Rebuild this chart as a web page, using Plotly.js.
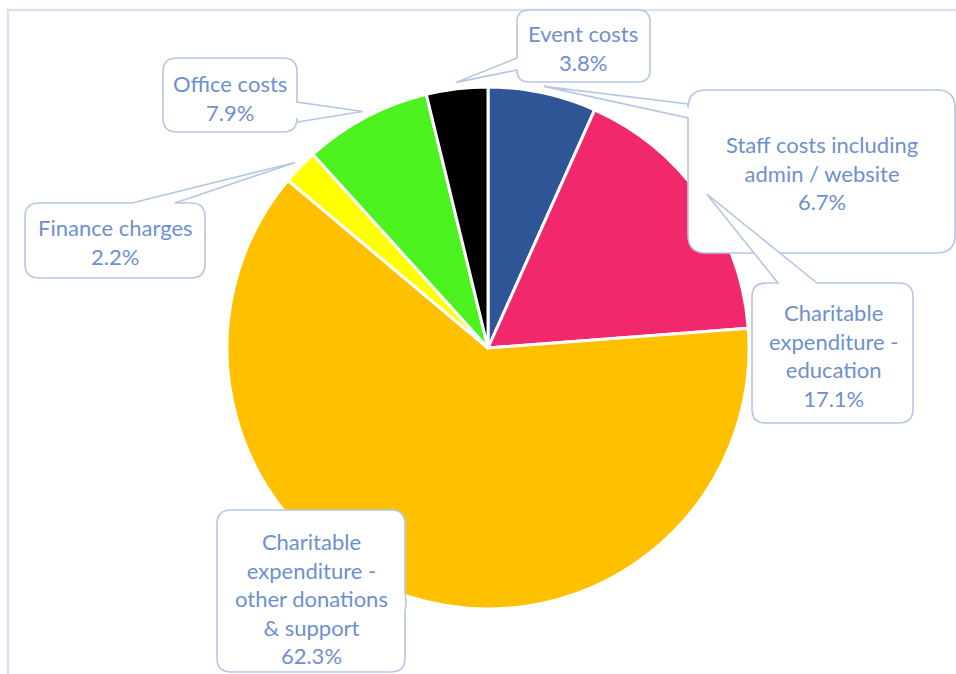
<!DOCTYPE html>
<html>
<head>
<meta charset="utf-8">
<script src="https://cdn.plot.ly/plotly-3.0.1.min.js"></script>
<style>html,body{margin:0;padding:0;background:#fff;}#chart{width:956px;height:674px;}</style>
</head>
<body>
<div id="chart"></div>
<script>
// ---- data ----
const categories = ["Staff costs including admin / website", "Charitable expenditure - education", "Charitable expenditure - other donations & support", "Finance charges", "Office costs", "Event costs"];
const labelLines = [
  ["Staff costs including", "admin / website"],
  ["Charitable", "expenditure -", "education"],
  ["Charitable", "expenditure -", "other donations", "& support"],
  ["Finance charges"],
  ["Office costs"],
  ["Event costs"]
];
const values = [6.7, 17.1, 62.3, 2.2, 7.9, 3.8];
const colors = ["#2F5597", "#F2286D", "#FFC000", "#FFFF00", "#4CF21E", "#000000"];

// ---- layout helpers (pixel -> paper) ----
const W = 956, H = 674;
const X = x => x / W, Y = y => 1 - y / H;
const CX = 488, CY = 348, R = 261;

// callout boxes: [x0, y0, x1, y1, radius, side, base1, base2, textX, textY]
const boxes = [
  [688, 90, 955, 253, 18, "left", 104, 118, 822, 173],
  [752, 283, 913, 423, 14, "top", 778, 817, 833, 355],
  [217, 510, 405, 672, 14, "right", 592, 612, 311, 598],
  [25, 203, 205, 278, 14, "top", 132, 175, 115, 242],
  [163, 58, 297, 132, 14, "right", 102, 122, 230, 98],
  [517, 10, 650, 82, 12, "left", 58, 70, 583, 48]
];

function calloutPath(b, tip) {
  const [x0, y0, x1, y1, r, side, p, q] = b;
  const lo = Math.min(p, q), hi = Math.max(p, q);
  const P = (x, y) => X(x) + "," + Y(y);
  let d = "M" + P(x0 + r, y0);
  if (side === "top") d += " L" + P(lo, y0) + " L" + P(tip[0], tip[1]) + " L" + P(hi, y0);
  d += " L" + P(x1 - r, y0) + " Q" + P(x1, y0) + " " + P(x1, y0 + r);
  if (side === "right") d += " L" + P(x1, lo) + " L" + P(tip[0], tip[1]) + " L" + P(x1, hi);
  d += " L" + P(x1, y1 - r) + " Q" + P(x1, y1) + " " + P(x1 - r, y1);
  if (side === "bottom") d += " L" + P(hi, y1) + " L" + P(tip[0], tip[1]) + " L" + P(lo, y1);
  d += " L" + P(x0 + r, y1) + " Q" + P(x0, y1) + " " + P(x0, y1 - r);
  if (side === "left") d += " L" + P(x0, hi) + " L" + P(tip[0], tip[1]) + " L" + P(x0, lo);
  d += " L" + P(x0, y0 + r) + " Q" + P(x0, y0) + " " + P(x0 + r, y0) + " Z";
  return d;
}

const total = values.reduce((a, b) => a + b, 0);
let cum = 0;
const shapes = [];
const annotations = [];
// outer frame
shapes.push({type: "path", xref: "paper", yref: "paper",
  path: "M" + X(8) + "," + Y(690) + " L" + X(8) + "," + Y(10) + " L" + X(970) + "," + Y(10),
  line: {color: "#D9E2F3", width: 2.5}, layer: "below"});

values.forEach((v, i) => {
  const mid = (cum + v / 2) / total * 2 * Math.PI;
  cum += v;
  const tip = [CX + R * 1.025 * Math.sin(mid), CY - R * 1.025 * Math.cos(mid)];
  const b = boxes[i];
  shapes.push({type: "path", xref: "paper", yref: "paper", path: calloutPath(b, tip),
    fillcolor: "#FFFFFF", line: {color: "#B4C7E7", width: 1.6}, layer: "above"});
  annotations.push({xref: "paper", yref: "paper", x: X(b[8]), y: Y(b[9]),
    xanchor: "center", yanchor: "middle", showarrow: false, align: "center",
    text: labelLines[i].concat([v.toFixed(1) + "%"]).join("<br>"),
    font: {family: "Lato, 'Open Sans', sans-serif", size: 22, color: "#6E8FD0"}});
});

const trace = {
  type: "pie",
  labels: categories,
  values: values,
  sort: false,
  direction: "clockwise",
  rotation: 0,
  textinfo: "none",
  hoverinfo: "none",
  marker: {colors: colors, line: {color: "#FFFFFF", width: 3}},
  domain: {x: [X(CX - R), X(CX + R)], y: [Y(CY + R), Y(CY - R)]}
};

const layout = {
  width: W, height: H,
  margin: {l: 0, r: 0, t: 0, b: 0},
  showlegend: false,
  paper_bgcolor: "#FFFFFF",
  shapes: shapes,
  annotations: annotations
};

Plotly.newPlot("chart", [trace], layout, {displayModeBar: false, staticPlot: true});
</script>
</body>
</html>
